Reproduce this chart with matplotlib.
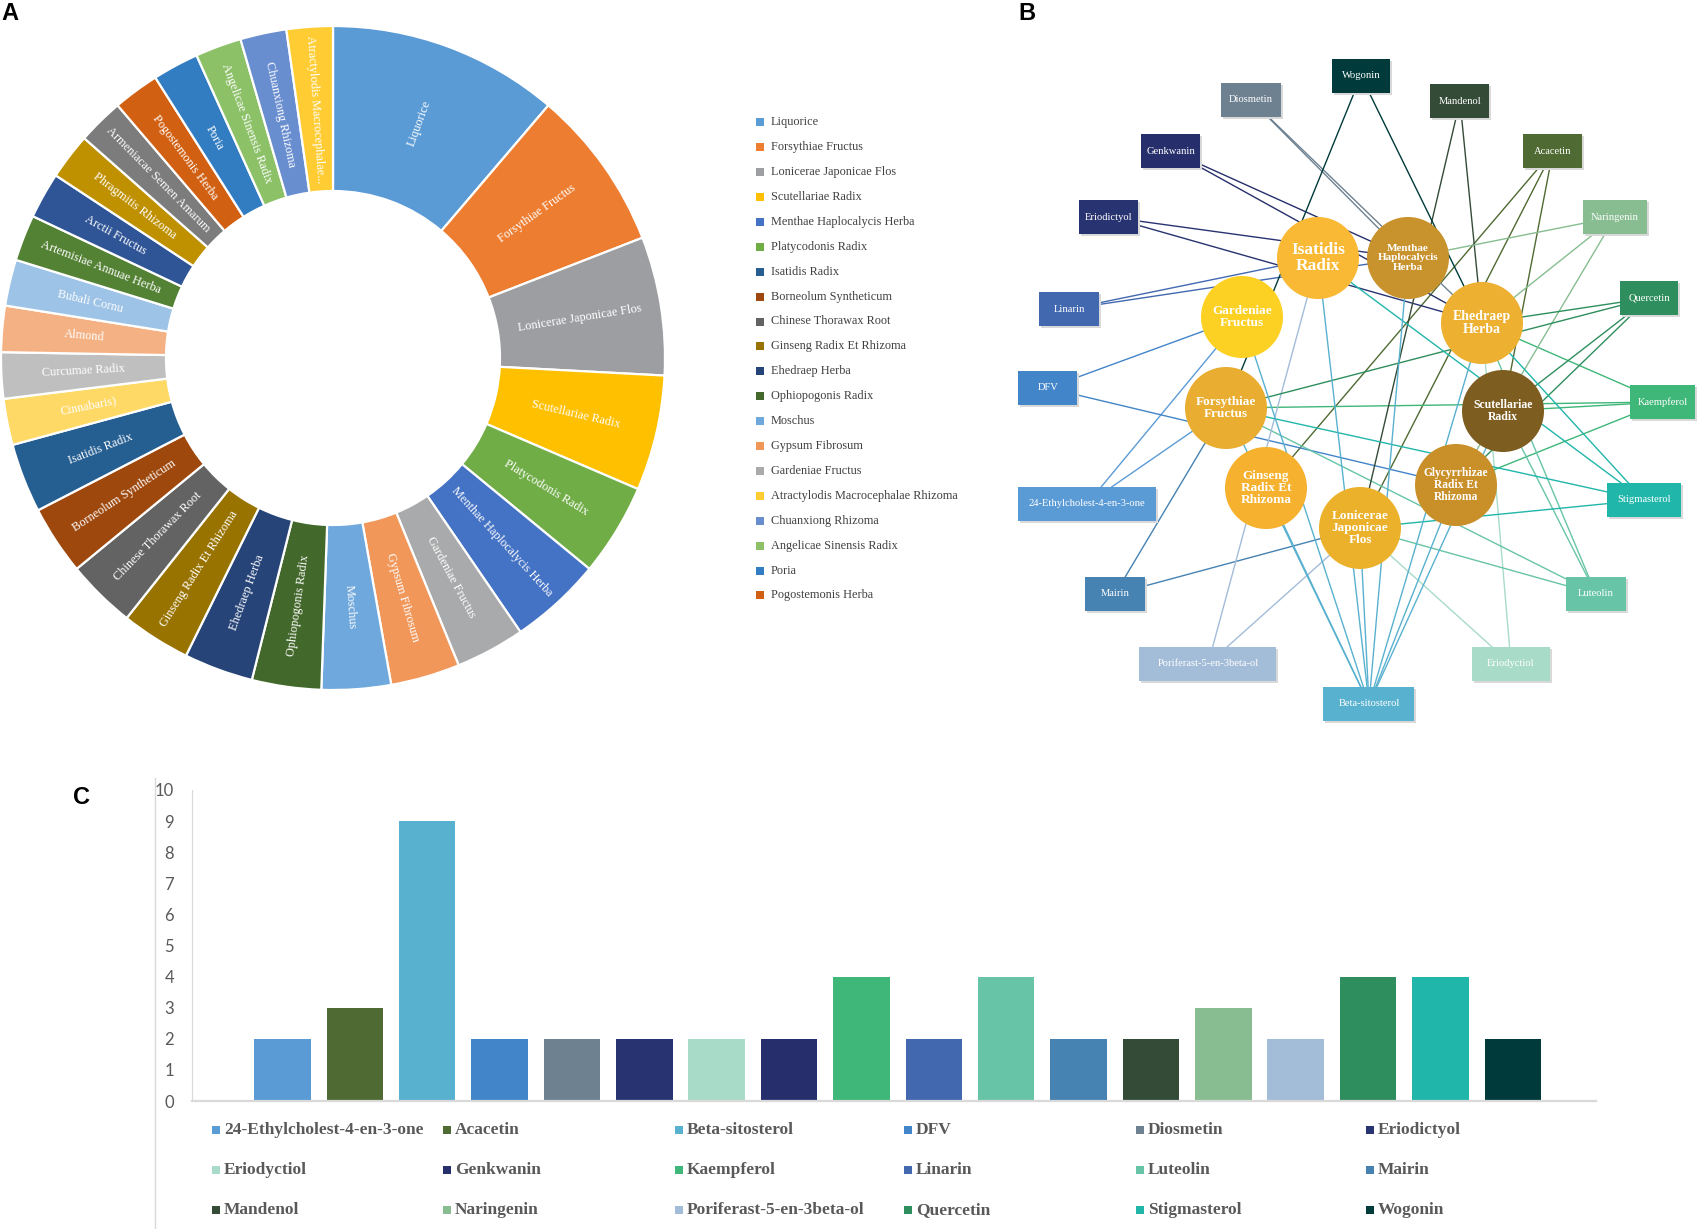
import numpy as np
import matplotlib
matplotlib.use('Agg')
import matplotlib.pyplot as plt
from matplotlib.patches import Circle, Rectangle
from matplotlib.lines import Line2D

W, H = 1699, 1229

# ---------------- data: panel A (herb frequency) ----------------
pie_names = ['Liquorice', 'Forsythiae Fructus', 'Lonicerae Japonicae Flos',
             'Scutellariae Radix', 'Platycodonis Radix', 'Menthae Haplocalycis Herba',
             'Gardeniae Fructus', 'Gypsum Fibrosum', 'Moschus', 'Ophiopogonis Radix',
             'Ehedraep Herba', 'Ginseng Radix Et Rhizoma', 'Chinese Thorawax Root',
             'Borneolum Syntheticum', 'Isatidis Radix', 'Cinnabaris)', 'Curcumae Radix',
             'Almond', 'Bubali Cornu', 'Artemisiae Annuae Herba', 'Arctii Fructus',
             'Phragmitis Rhizoma', 'Armeniacae Semen Amarum', 'Pogostemonis Herba',
             'Poria', 'Angelicae Sinensis Radix', 'Chuanxiong Rhizoma',
             'Atractylodis Macrocephalae Rhizoma']
pie_counts = [10, 7, 6, 5, 4, 4, 3, 3, 3, 3, 3, 3, 3, 3, 3,
              2, 2, 2, 2, 2, 2, 2, 2, 2, 2, 2, 2, 2]
legend_a = ['Liquorice', 'Forsythiae Fructus', 'Lonicerae Japonicae Flos',
            'Scutellariae Radix', 'Menthae Haplocalycis Herba', 'Platycodonis Radix',
            'Isatidis Radix', 'Borneolum Syntheticum', 'Chinese Thorawax Root',
            'Ginseng Radix Et Rhizoma', 'Ehedraep Herba', 'Ophiopogonis Radix',
            'Moschus', 'Gypsum Fibrosum', 'Gardeniae Fructus',
            'Atractylodis Macrocephalae Rhizoma', 'Chuanxiong Rhizoma',
            'Angelicae Sinensis Radix', 'Poria', 'Pogostemonis Herba']

# ---------------- data: panel B (network) ----------------
core_herbs = ['Isatidis Radix', 'Menthae Haplocalycis Herba', 'Gardeniae Fructus',
              'Ehedraep Herba', 'Forsythiae Fructus', 'Scutellariae Radix',
              'Ginseng Radix Et Rhizoma', 'Lonicerae Japonicae Flos',
              'Glycyrrhizae Radix Et Rhizoma']
edges = [
    ('24-Ethylcholest-4-en-3-one', 'Gardeniae Fructus'),
    ('24-Ethylcholest-4-en-3-one', 'Forsythiae Fructus'),
    ('Acacetin', 'Ginseng Radix Et Rhizoma'),
    ('Acacetin', 'Lonicerae Japonicae Flos'),
    ('Acacetin', 'Scutellariae Radix'),
    ('DFV', 'Gardeniae Fructus'),
    ('DFV', 'Glycyrrhizae Radix Et Rhizoma'),
    ('Diosmetin', 'Menthae Haplocalycis Herba'),
    ('Diosmetin', 'Ehedraep Herba'),
    ('Eriodictyol', 'Menthae Haplocalycis Herba'),
    ('Eriodictyol', 'Ehedraep Herba'),
    ('Eriodyctiol', 'Lonicerae Japonicae Flos'),
    ('Eriodyctiol', 'Ehedraep Herba'),
    ('Genkwanin', 'Menthae Haplocalycis Herba'),
    ('Genkwanin', 'Ehedraep Herba'),
    ('Kaempferol', 'Forsythiae Fructus'),
    ('Kaempferol', 'Ehedraep Herba'),
    ('Kaempferol', 'Glycyrrhizae Radix Et Rhizoma'),
    ('Kaempferol', 'Scutellariae Radix'),
    ('Linarin', 'Menthae Haplocalycis Herba'),
    ('Linarin', 'Isatidis Radix'),
    ('Luteolin', 'Lonicerae Japonicae Flos'),
    ('Luteolin', 'Forsythiae Fructus'),
    ('Luteolin', 'Ehedraep Herba'),
    ('Luteolin', 'Scutellariae Radix'),
    ('Mairin', 'Forsythiae Fructus'),
    ('Mairin', 'Lonicerae Japonicae Flos'),
    ('Mandenol', 'Lonicerae Japonicae Flos'),
    ('Mandenol', 'Ehedraep Herba'),
    ('Naringenin', 'Menthae Haplocalycis Herba'),
    ('Naringenin', 'Ehedraep Herba'),
    ('Naringenin', 'Glycyrrhizae Radix Et Rhizoma'),
    ('Poriferast-5-en-3beta-ol', 'Isatidis Radix'),
    ('Poriferast-5-en-3beta-ol', 'Lonicerae Japonicae Flos'),
    ('Quercetin', 'Ehedraep Herba'),
    ('Quercetin', 'Forsythiae Fructus'),
    ('Quercetin', 'Scutellariae Radix'),
    ('Quercetin', 'Glycyrrhizae Radix Et Rhizoma'),
    ('Stigmasterol', 'Lonicerae Japonicae Flos'),
    ('Stigmasterol', 'Ehedraep Herba'),
    ('Stigmasterol', 'Isatidis Radix'),
    ('Stigmasterol', 'Forsythiae Fructus'),
    ('Wogonin', 'Forsythiae Fructus'),
    ('Wogonin', 'Ehedraep Herba'),
] + [('Beta-sitosterol', h) for h in core_herbs]

# ---------------- data: panel C (compound degree) ----------------
compounds = ['24-Ethylcholest-4-en-3-one', 'Acacetin', 'Beta-sitosterol', 'DFV',
             'Diosmetin', 'Eriodictyol', 'Eriodyctiol', 'Genkwanin', 'Kaempferol',
             'Linarin', 'Luteolin', 'Mairin', 'Mandenol', 'Naringenin',
             'Poriferast-5-en-3beta-ol', 'Quercetin', 'Stigmasterol', 'Wogonin']
degree = [2, 3, 9, 2, 2, 2, 2, 2, 4, 2, 4, 2, 2, 3, 2, 4, 4, 2]

# ---------------- styles ----------------
pie_colors = ['#5B9BD5', '#ED7D31', '#9C9EA1', '#FFC000', '#70AD47', '#4472C4',
              '#A9AAAB', '#F1975A', '#6FA8DC', '#43682B', '#264478', '#997300',
              '#636363', '#9E480E', '#255E91', '#FFD966', '#BFBFBF', '#F4B183',
              '#9DC3E6', '#548235', '#2F5597', '#BF9000', '#7C7C7C', '#D26012',
              '#327DC2', '#8CC168', '#698ED0', '#FFCD33']
pie_col = dict(zip(pie_names, pie_colors))

comp_colors = ['#5B9BD5', '#4F6A32', '#58B1CF', '#4285C9', '#6E8191', '#283371',
               '#A8DBC8', '#262F6C', '#3EB778', '#4268B0', '#67C4A7', '#4682B2',
               '#344B37', '#87BD90', '#A3BCD8', '#2E8E5D', '#21B6AA', '#003A3A']
comp_col = dict(zip(compounds, comp_colors))

herb_style = {  # center x, center y, colour, label, fontsize
    'Isatidis Radix': (1318, 258, '#F9B934', 'Isatidis\nRadix', 12.5),
    'Menthae Haplocalycis Herba': (1408, 258, '#C8922C', 'Menthae\nHaplocalycis\nHerba', 8),
    'Gardeniae Fructus': (1242, 317, '#FDD123', 'Gardeniae\nFructus', 9.5),
    'Ehedraep Herba': (1482, 323, '#EDB030', 'Ehedraep\nHerba', 10),
    'Forsythiae Fructus': (1226, 408, '#E9AD32', 'Forsythiae\nFructus', 9.5),
    'Scutellariae Radix': (1503, 411, '#7E5E20', 'Scutellariae\nRadix', 8.5),
    'Ginseng Radix Et Rhizoma': (1266, 488, '#F6B12E', 'Ginseng\nRadix Et\nRhizoma', 9.5),
    'Lonicerae Japonicae Flos': (1360, 528, '#EBB12B', 'Lonicerae\nJaponicae\nFlos', 9.5),
    'Glycyrrhizae Radix Et Rhizoma': (1456, 485, '#C98F29', 'Glycyrrhizae\nRadix Et\nRhizoma', 8.3),
}
box_pos = {  # center x, center y, width
    'Wogonin': (1361, 76, 58), 'Diosmetin': (1251, 100, 60),
    'Mandenol': (1460, 101, 59), 'Genkwanin': (1171, 151, 59),
    'Acacetin': (1553, 151, 59), 'Eriodictyol': (1109, 217, 59),
    'Naringenin': (1615, 217, 64), 'Linarin': (1069, 309, 60),
    'Quercetin': (1649, 298, 58), 'DFV': (1048, 388, 59),
    'Kaempferol': (1663, 402, 65), '24-Ethylcholest-4-en-3-one': (1087, 504, 138),
    'Stigmasterol': (1644, 500, 74), 'Mairin': (1115, 594, 60),
    'Luteolin': (1596, 594, 60), 'Poriferast-5-en-3beta-ol': (1208, 664, 137),
    'Eriodyctiol': (1511, 664, 78), 'Beta-sitosterol': (1369, 704, 91),
}
serif = 'Liberation Serif'


def px_axes(x0, y0, w, h):
    return fig.add_axes([x0 / W, 1 - (y0 + h) / H, w / W, h / H])


fig = plt.figure(figsize=(W / 100, H / 100), dpi=100)

# ---------------- A: donut ----------------
axA = px_axes(1, 26, 664, 664)
wedges, _ = axA.pie(pie_counts, colors=pie_colors, startangle=90, counterclock=False,
                    radius=1, wedgeprops=dict(width=0.497, edgecolor='white', linewidth=1.6))
axA.set_xlim(-1, 1)
axA.set_ylim(-1, 1)
axA.set_aspect('equal')
axA.axis('off')
for w, name in zip(wedges, pie_names):
    th = (w.theta1 + w.theta2) / 2
    rad = np.deg2rad(th)
    rot = th if np.cos(rad) >= 0 else th - 180
    lab = name if len(name) < 28 else name[:26] + '...'
    axA.text(0.752 * np.cos(rad), 0.752 * np.sin(rad), lab, rotation=rot,
             rotation_mode='anchor', ha='center', va='center', color='white',
             fontsize=8.8, family=serif)

# overlay for legends, network, letters
ov = fig.add_axes([0, 0, 1, 1])
ov.set_xlim(0, W)
ov.set_ylim(H, 0)
ov.axis('off')
ov.patch.set_visible(False)

for i, name in enumerate(legend_a):
    y = 122.3 + i * 24.9
    ov.add_patch(Rectangle((756, y - 4), 8, 8, color=pie_col[name], lw=0))
    ov.text(771, y, name, va='center', ha='left', fontsize=8.8, family=serif,
            color='#404040')

# ---------------- B: network ----------------
R = 41
for comp, herb in edges:
    cx, cy, _ = box_pos[comp]
    hx, hy = herb_style[herb][:2]
    ov.add_line(Line2D([cx, hx], [cy, hy], color=comp_col[comp], lw=1.0, zorder=1))
for comp, (cx, cy, bw) in box_pos.items():
    bh = 34
    ov.add_patch(Rectangle((cx - bw / 2 + 2, cy - bh / 2 + 2), bw, bh,
                           color='#d9d9d9', lw=0, zorder=2))
    ov.add_patch(Rectangle((cx - bw / 2, cy - bh / 2), bw, bh,
                           color=comp_col[comp], lw=0, zorder=3))
    ov.text(cx, cy, comp, ha='center', va='center', color='white', fontsize=7.6,
            family=serif, zorder=4)
for herb in core_herbs:
    hx, hy, col, lab, fs = herb_style[herb]
    ov.add_patch(Circle((hx, hy), R, color=col, lw=0, zorder=5))
    ov.text(hx, hy, lab, ha='center', va='center', color='white', fontsize=fs,
            family=serif, fontweight='bold', linespacing=1.05, zorder=6)

# ---------------- C: bar chart ----------------
axC = px_axes(192, 790, 1596 - 192, 1101 - 790)
xpos = np.arange(len(compounds))
axC.bar(xpos, degree, width=0.78, color=comp_colors, zorder=2)
axC.set_xlim(-1.25, 18.15)
axC.set_ylim(0, 10)
axC.set_yticks(range(0, 11))
axC.set_xticks([])
axC.tick_params(axis='y', length=0, pad=13, labelsize=12, labelcolor='#595959')
for t in axC.get_yticklabels():
    t.set_family('Lato')
for s in ['top', 'right']:
    axC.spines[s].set_visible(False)
axC.spines['left'].set_color('#D9D9D9')
axC.spines['left'].set_linewidth(0.8)
axC.spines['bottom'].set_color('#D9D9D9')
axC.spines['bottom'].set_linewidth(1.6)
axC.set_facecolor('none')

ov.add_line(Line2D([155, 155], [778, 1229], color='#D9D9D9', lw=1))

col_x = [212, 443, 675, 904, 1136, 1366]
row_y = [1130, 1170, 1210]
for i, comp in enumerate(compounds):
    x = col_x[i % 6]
    y = row_y[i // 6]
    ov.add_patch(Rectangle((x, y - 4.5), 8.5, 8.5, color=comp_col[comp], lw=0))
    ov.text(x + 12, y, comp, ha='left', va='center', fontsize=12.5, family=serif,
            fontweight='bold', color='#595959')

# panel letters
for lab, x, y in [('A', 10, 14), ('B', 1027, 13), ('C', 82, 798)]:
    ov.text(x, y, lab, ha='center', va='center', fontsize=17, fontweight='bold',
            family='Liberation Sans', color='black')

fig.savefig('out.png', dpi=100)
